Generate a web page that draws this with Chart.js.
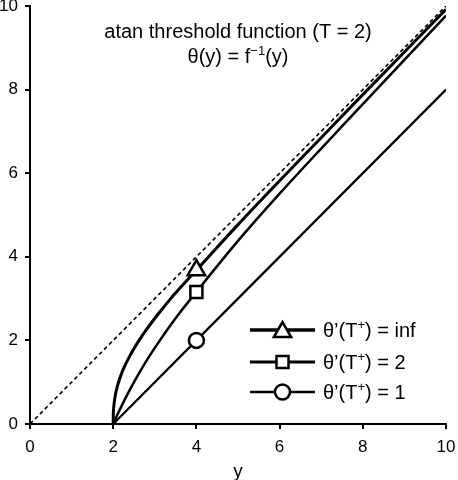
<!DOCTYPE html>
<html>
<head>
<meta charset="utf-8">
<script src="https://cdn.jsdelivr.net/npm/chart.js@4.4.1/dist/chart.umd.min.js"></script>
<style>
  html, body { margin: 0; padding: 0; background: #fff; }
  canvas { display: block; }
</style>
</head>
<body>
<canvas id="chart" width="458" height="480"></canvas>
<script>
// reference line theta = y
const diagX = [0, 10];
const diagY = [0, 10];

// theta'(T+) = inf  (vertical start at y = T)
const infX = [2, 2.002, 2.013, 2.036, 2.074, 2.128, 2.198, 2.284, 2.384, 2.497, 2.622, 2.794, 2.98, 3.177, 3.382, 3.65, 4, 5, 6, 7, 8, 9, 10];
const infY = [0, 0.2, 0.4, 0.6, 0.8, 1.0, 1.2, 1.4, 1.6, 1.8, 2.0, 2.25, 2.5, 2.75, 3.0, 3.3, 3.68, 4.77, 5.82, 6.85, 7.88, 8.9, 9.92];

// theta'(T+) = 2
const twoX = [2, 2.1, 2.25, 2.5, 2.75, 3, 3.5, 4, 5, 6, 7, 8, 9, 10];
const twoY = [0, 0.22, 0.53, 1.0, 1.43, 1.82, 2.53, 3.16, 4.38, 5.51, 6.59, 7.65, 8.71, 9.77];

// theta'(T+) = 1
const oneX = [2, 4, 10];
const oneY = [0, 2, 8];

const markerAt = 4;
const xTicks = [0, 2, 4, 6, 8, 10];
const yTicks = [0, 2, 4, 6, 8, 10];
const legendValues = ['inf', '2', '1'];

const FONT = '"Liberation Sans", Arial, Helvetica, sans-serif';
Chart.defaults.font.family = FONT;
Chart.defaults.color = '#000';

const pts = (xs, ys) => xs.map((x, i) => ({ x, y: ys[i] }));
const markerOnly = (xs, r) => c => xs[c.dataIndex] === markerAt ? r : 0;

const datasets = [
  {
    data: pts(diagX, diagY),
    borderColor: '#000', borderWidth: 1.6, borderDash: [4, 3],
    pointRadius: 0
  },
  {
    data: pts(infX, infY),
    borderColor: '#000', borderWidth: 3, cubicInterpolationMode: 'monotone',
    pointStyle: 'triangle', pointRadius: markerOnly(infX, 10),
    pointBackgroundColor: '#fff', pointBorderColor: '#000', pointBorderWidth: 2.5
  },
  {
    data: pts(twoX, twoY),
    borderColor: '#000', borderWidth: 2.5, cubicInterpolationMode: 'monotone',
    pointStyle: 'rect', pointRadius: markerOnly(twoX, 8.5),
    pointBackgroundColor: '#fff', pointBorderColor: '#000', pointBorderWidth: 2.5
  },
  {
    data: pts(oneX, oneY),
    borderColor: '#000', borderWidth: 2.2,
    pointStyle: 'circle', pointRadius: markerOnly(oneX, 7.5),
    pointBackgroundColor: '#fff', pointBorderColor: '#000', pointBorderWidth: 2.5
  }
];

// draws text pieces, with raised smaller superscripts, centred or left aligned
function drawRich(c, parts, x, y, size, align) {
  const widths = parts.map(p => {
    c.font = (p.sup ? size * 0.65 : size) + 'px ' + FONT;
    return c.measureText(p.t).width;
  });
  const total = widths.reduce((s, w) => s + w, 0);
  let cx = align === 'center' ? x - total / 2 : x;
  parts.forEach((p, i) => {
    c.font = (p.sup ? size * 0.65 : size) + 'px ' + FONT;
    c.fillText(p.t, cx, p.sup ? y - size * 0.42 : y);
    cx += widths[i];
  });
}

const annotations = {
  id: 'annotations',
  afterDraw(chart) {
    const c = chart.ctx;
    const a = chart.chartArea;
    c.save();
    c.fillStyle = '#000';
    c.textBaseline = 'alphabetic';
    c.textAlign = 'left';
    const mid = (a.left + a.right) / 2;
    drawRich(c, [{ t: 'atan threshold function (T = 2)' }], mid, a.top + 32, 20, 'center');
    drawRich(c, [{ t: 'θ(y) = f' }, { t: '−1', sup: true }, { t: '(y)' }], mid, a.top + 57, 20, 'center');

    // legend
    const x0 = a.right - 196, x1 = a.right - 131, tx = a.right - 123;
    const rows = [a.bottom - 94, a.bottom - 62, a.bottom - 32];
    const sizes = [10, 8.5, 7.5];
    chart.data.datasets.slice(1).forEach((ds, i) => {
      const y = rows[i];
      c.strokeStyle = '#000';
      c.lineWidth = ds.borderWidth + 0.5;
      c.setLineDash([]);
      c.beginPath();
      c.moveTo(x0, y);
      c.lineTo(x1, y);
      c.stroke();
      c.fillStyle = '#fff';
      c.lineWidth = 2.5;
      Chart.helpers.drawPoint(c, { pointStyle: ds.pointStyle, radius: sizes[i], rotation: 0, borderWidth: 2.5 }, (x0 + x1) / 2, y + (i === 0 ? 2 : 0));
      c.fillStyle = '#000';
      drawRich(c, [{ t: 'θ’(T' }, { t: '+', sup: true }, { t: ') = ' + legendValues[i] }], tx, y + 7, 20, 'left');
    });
    c.restore();
  }
};

const axisCommon = {
  type: 'linear',
  min: 0,
  max: 10,
  grid: { drawOnChartArea: false, drawTicks: true, tickLength: 5, color: '#000', lineWidth: 2 },
  border: { display: true, color: '#000', width: 2 },
  ticks: { font: { size: 17 }, color: '#000', padding: 6, autoSkip: false }
};

new Chart(document.getElementById('chart'), {
  type: 'line',
  data: { datasets },
  options: {
    responsive: false,
    animation: false,
    events: [],
    layout: { padding: { top: 6, right: 12, left: 0, bottom: 0 } },
    scales: {
      x: {
        ...axisCommon,
        afterBuildTicks: s => { s.ticks = xTicks.map(v => ({ value: v })); },
        afterFit: s => { s.height = 56; s.paddingLeft = 0; s.paddingRight = 0; },
        ticks: { ...axisCommon.ticks, padding: 8 },
        title: { display: true, text: 'y', font: { size: 19 }, color: '#000', padding: { top: 0, bottom: -3 } }
      },
      y: {
        ...axisCommon,
        afterBuildTicks: s => { s.ticks = yTicks.map(v => ({ value: v })); },
        afterFit: s => { s.width = 30; s.paddingTop = 0; s.paddingBottom = 0; },
        ticks: { ...axisCommon.ticks, padding: 7 }
      }
    },
    plugins: { legend: { display: false }, tooltip: { enabled: false } }
  },
  plugins: [annotations]
});
</script>
</body>
</html>
